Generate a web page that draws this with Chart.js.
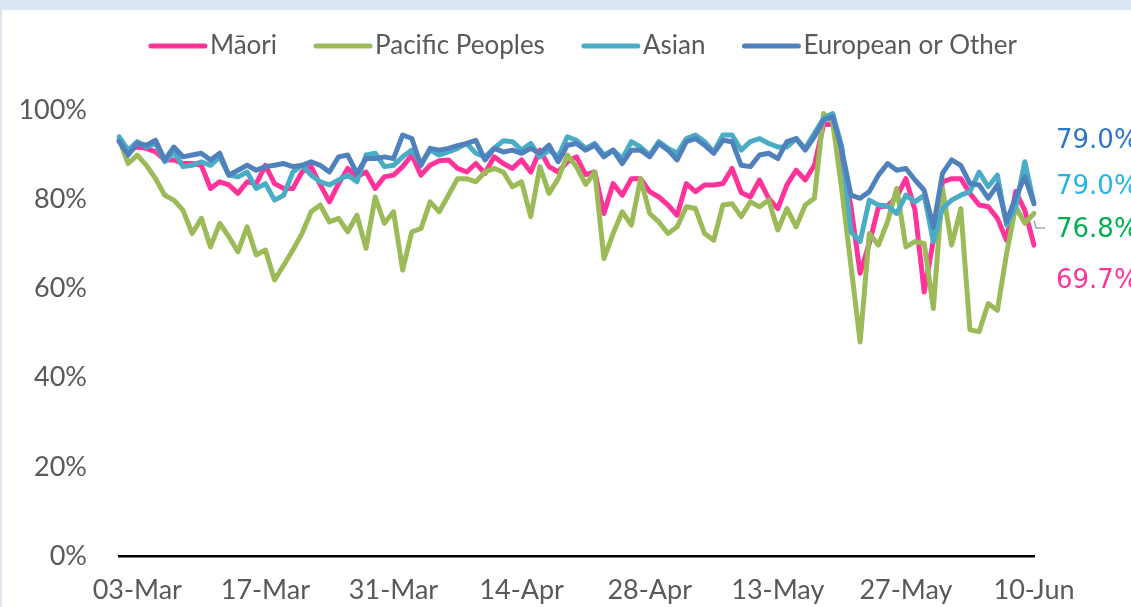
<!DOCTYPE html>
<html>
<head>
<meta charset="utf-8">
<title>Daily share by ethnicity</title>
<script src="https://cdn.jsdelivr.net/npm/chart.js@4.4.0/dist/chart.umd.min.js"></script>
<style>
  html, body { margin: 0; padding: 0; background: #fff; }
  #wrap { width: 1131px; height: 607px; }
</style>
</head>
<body>
<div id="wrap"><canvas id="grafico" width="1131" height="607"></canvas></div>
<script>
// CATEGORIES (one day is missing between 28-Apr and 13-May)
const dates = [
  "01-Mar","02-Mar","03-Mar","04-Mar","05-Mar","06-Mar","07-Mar","08-Mar","09-Mar","10-Mar",
  "11-Mar","12-Mar","13-Mar","14-Mar","15-Mar","16-Mar","17-Mar","18-Mar","19-Mar","20-Mar",
  "21-Mar","22-Mar","23-Mar","24-Mar","25-Mar","26-Mar","27-Mar","28-Mar","29-Mar","30-Mar",
  "31-Mar","01-Apr","02-Apr","03-Apr","04-Apr","05-Apr","06-Apr","07-Apr","08-Apr","09-Apr",
  "10-Apr","11-Apr","12-Apr","13-Apr","14-Apr","15-Apr","16-Apr","17-Apr","18-Apr","19-Apr",
  "20-Apr","21-Apr","22-Apr","23-Apr","24-Apr","25-Apr","26-Apr","27-Apr","28-Apr","29-Apr",
  "30-Apr","01-May","02-May","03-May","04-May","05-May","06-May","07-May","08-May","09-May",
  "11-May","12-May","13-May","14-May","15-May","16-May","17-May","18-May","19-May","20-May",
  "21-May","22-May","23-May","24-May","25-May","26-May","27-May","28-May","29-May","30-May",
  "31-May","01-Jun","02-Jun","03-Jun","04-Jun","05-Jun","06-Jun","07-Jun","08-Jun","09-Jun",
  "10-Jun"
];

// SERIES (%)
const maori = [
  93, 91, 91.7, 91.4, 90.6, 88.8, 88.8, 88, 88, 87.6,
  82.4, 83.9, 83.2, 81.3, 83.9, 83.5, 87.6, 83.5, 82.4, 82.4,
  86.1, 87.3, 83.2, 79.4, 83.5, 86.9, 85, 86.1, 82.4, 85,
  85.4, 87.3, 89.9, 85.4, 87.6, 88.6, 88.8, 86.9, 86.1, 88,
  85.8, 89.5, 88, 86.9, 88.8, 86.1, 91, 87.3, 86.1, 88.4,
  89.5, 85.5, 86.1, 76.8, 83.5, 80.9, 84.6, 84.6, 81.7, 80.5,
  78.7, 76.4, 83.5, 81.7, 83.2, 83.2, 83.5, 86.9, 81.5, 80.5,
  84.3, 80.2, 77.9, 83.2, 86.5, 84.3, 87.6, 96.6, 97, 88.8,
  78.3, 63.4, 70.1, 78.3, 78.5, 80.5, 84.6, 77.5, 59.2, 70.8,
  83.9, 84.6, 84.6, 81.3, 78.7, 78.3, 75.7, 70.8, 81.7, 77.5,
  69.7
];
const pacific = [
  93.5, 88, 89.9, 87.6, 84.6, 80.9, 79.8, 77.5, 72.3, 75.7,
  69.3, 74.6, 71.6, 68.2, 73.8, 67.5, 68.6, 61.9, 65.2, 68.6,
  72.3, 77.2, 78.7, 74.9, 75.7, 72.7, 76.4, 69, 80.5, 74.6,
  77.2, 64.1, 72.7, 73.4, 79.4, 77.2, 80.9, 84.6, 84.6, 83.9,
  86.1, 86.9, 86.1, 82.8, 83.9, 76.1, 87.3, 81.3, 84.6, 89.9,
  87.3, 83.3, 86.1, 66.7, 72.3, 77.2, 74.2, 84.6, 76.8, 74.9,
  72.3, 73.8, 78.3, 77.9, 72.3, 70.8, 78.7, 79, 76.1, 79.4,
  78.3, 79.8, 73.1, 77.9, 73.8, 78.7, 80.2, 99.2, 97.3, 82,
  65, 48, 72.3, 69.7, 75, 82.4, 69.3, 70.5, 70.1, 55.5,
  82.4, 69.7, 77.9, 50.7, 50.3, 56.6, 55.1, 67.8, 78.3, 74.6,
  76.8
];
const asian = [
  94, 91, 92.9, 91.7, 92.5, 88.4, 90.6, 87.3, 87.6, 88.4,
  87.6, 89.5, 85.4, 85, 86.1, 82.4, 83.5, 79.8, 80.9, 86.1,
  87.6, 85.4, 83.9, 83.2, 84.3, 85.4, 83.9, 89.9, 90.3, 87.3,
  87.6, 89.5, 91, 88, 91, 89.9, 90.6, 91.4, 92.5, 90.3,
  89.5, 91.4, 93.1, 92.9, 91, 92.5, 89.5, 91, 89.5, 94,
  93.2, 91.4, 92.5, 89.9, 91, 89.1, 92.9, 91.7, 89.9, 92.9,
  91.4, 90.3, 93.6, 94.4, 92.9, 90.6, 94.4, 94.4, 91, 92.9,
  93.6, 92.5, 91.7, 91.7, 93.6, 91.4, 94.8, 98.1, 99.2, 91.7,
  72.7, 70.5, 79.8, 78.7, 78.5, 76.8, 80.9, 79.4, 80.9, 70.5,
  77.9, 79.8, 80.9, 81.7, 86.1, 82.8, 85.4, 74.2, 78.3, 88.4,
  79
];
const european = [
  93, 89.9, 92.5, 92.1, 93.2, 88.8, 91.7, 89.5, 89.9, 90.3,
  88.8, 90.3, 85.4, 86.5, 87.6, 86.5, 87.3, 87.6, 88, 87.3,
  87.6, 88.4, 87.6, 86.1, 89.5, 89.9, 85.8, 89.1, 89.1, 89.5,
  89.1, 94.4, 93.6, 87.6, 91.4, 91, 91.4, 92, 92.5, 93.2,
  88.8, 91.4, 90.6, 91, 90.3, 91.4, 90.3, 92.1, 88.4, 92.1,
  92.5, 91, 92.1, 89.5, 91, 88, 91, 91, 89.5, 92.5,
  91, 88.8, 92.9, 93.6, 92.1, 90.3, 93.2, 92.9, 87.6, 87.3,
  89.9, 90.3, 89.1, 92.9, 93.6, 91, 94, 97.7, 98.5, 91,
  80.9, 80.2, 81.7, 85.4, 88, 86.5, 86.9, 84.3, 82, 73.8,
  85.8, 88.8, 87.6, 83.5, 83.2, 80.2, 83.2, 74.9, 80.5, 85,
  79
];

// show a date every 14 categories, starting at 03-Mar
const tickStep = 14;
const firstTick = 2;

const GRAY = "#595959";

// fundo + faixa azul clara no topo
const frame = {
  id: "frame",
  beforeDraw(chart) {
    const c = chart.ctx;
    c.save();
    c.fillStyle = "#ffffff";
    c.fillRect(0, 0, chart.width, chart.height);
    c.fillStyle = "#dce6f2";
    c.fillRect(0, 0, chart.width, 10);
    c.fillRect(0, 0, 2, chart.height);
    c.restore();
  }
};

// legenda no topo, estilo Excel (linha + texto colado)
const topLegend = {
  id: "topLegend",
  afterDraw(chart) {
    const c = chart.ctx;
    c.save();
    c.font = "26px Lato";
    c.textBaseline = "middle";
    const sample = 58, gap = 3, between = 37;
    const items = chart.data.datasets.slice().sort((a, b) => a.legendPos - b.legendPos);
    let total = 0;
    items.forEach((ds) => { total += sample + gap + c.measureText(ds.label).width; });
    total += between * (items.length - 1);
    let x = 583 - total / 2;
    const y = 46;
    items.forEach((ds) => {
      c.strokeStyle = ds.borderColor;
      c.lineWidth = 5;
      c.lineCap = "round";
      c.beginPath();
      c.moveTo(x + 2, y);
      c.lineTo(x + sample - 2, y);
      c.stroke();
      c.fillStyle = GRAY;
      c.fillText(ds.label, x + sample + gap, y);
      x += sample + gap + c.measureText(ds.label).width + between;
    });
    c.restore();
  }
};

// rótulos do último valor à direita
const endLabels = {
  id: "endLabels",
  afterDatasetsDraw(chart) {
    const c = chart.ctx;
    const area = chart.chartArea;
    c.save();
    c.font = "26px 'DejaVu Sans'";
    c.textBaseline = "middle";
    chart.data.datasets.forEach((ds, i) => {
      const last = ds.data[ds.data.length - 1];
      const y = area.top + ds.labelOffset;
      const x = area.right + 22;
      if (ds.leader) {
        const pt = chart.getDatasetMeta(i).data[ds.data.length - 1];
        c.strokeStyle = "#a6a6a6";
        c.lineWidth = 1.5;
        c.beginPath();
        c.moveTo(pt.x, pt.y + 7);
        c.lineTo(pt.x + 2, y - 2);
        c.lineTo(x - 11, y - 2);
        c.stroke();
      }
      c.fillStyle = ds.labelColor;
      c.fillText(last.toFixed(1) + "%", x, y);
    });
    c.restore();
  }
};

const ctx = document.getElementById("grafico");

new Chart(ctx, {
  type: "line",
  data: {
    labels: dates,
    datasets: [
      {
        label: "European or Other",
        data: european,
        borderColor: "#4f81bd",
        labelColor: "#2f75c4",
        labelOffset: 31,
        legendPos: 4,
        order: 1
      },
      {
        label: "Asian",
        data: asian,
        borderColor: "#4bacc6",
        labelColor: "#27b3e8",
        labelOffset: 77,
        legendPos: 3,
        order: 2
      },
      {
        label: "Pacific Peoples",
        data: pacific,
        borderColor: "#9bbb59",
        labelColor: "#00b050",
        labelOffset: 120,
        legendPos: 2,
        leader: true,
        order: 3
      },
      {
        label: "Māori",
        data: maori,
        borderColor: "#ff3399",
        labelColor: "#ff3399",
        labelOffset: 171,
        legendPos: 1,
        order: 4
      }
    ]
  },
  options: {
    responsive: false,
    animation: false,
    layout: {
      padding: { top: 110, right: 97, bottom: 0, left: 0 }
    },
    elements: {
      line: { borderWidth: 5, tension: 0, borderJoinStyle: "round", borderCapStyle: "round", fill: false },
      point: { radius: 0, hoverRadius: 0 }
    },
    plugins: {
      legend: { display: false },
      tooltip: { enabled: false }
    },
    scales: {
      x: {
        type: "category",
        offset: false,
        grid: { display: false, drawTicks: false },
        border: { display: true, color: "#000000", width: 2.5 },
        afterFit(scale) { scale.height = 51; },
        ticks: {
          autoSkip: false,
          maxRotation: 0,
          padding: 18,
          color: GRAY,
          font: { family: "Lato", size: 27 },
          callback(value, index) {
            return (index - firstTick) % tickStep === 0 ? dates[index] : null;
          }
        }
      },
      y: {
        min: 0,
        max: 100,
        grid: { display: false, drawTicks: false },
        border: { display: false },
        afterFit(scale) { scale.width = 119; },
        ticks: {
          stepSize: 20,
          padding: 32,
          color: GRAY,
          font: { family: "Lato", size: 27 },
          callback(value) { return value + "%"; }
        }
      }
    }
  },
  plugins: [frame, topLegend, endLabels]
});
</script>
</body>
</html>
